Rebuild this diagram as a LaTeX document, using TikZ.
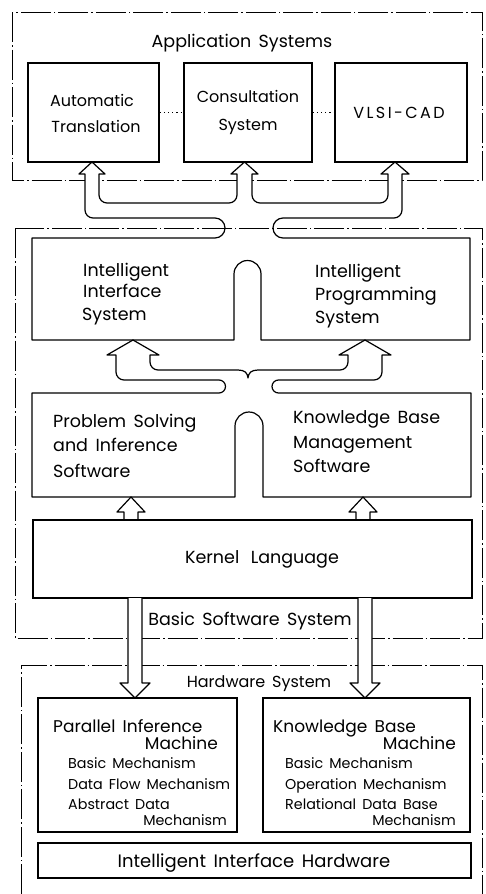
\documentclass[tikz,border=0pt]{standalone}
\usepackage{fontspec}
\setmainfont{Poppins}[WordSpace=1.6]
\tikzset{
  dd/.style={line width=1pt, dash pattern=on 30pt off 3pt on 1.5pt off 3pt},
  ln/.style={line width=1.2pt, line join=round},
  box/.style={draw, line width=1.2pt, inner sep=0pt},
  lbl/.style={font=\fontsize{17.5}{20}\selectfont, inner sep=0pt},
  app/.style={font=\fontsize{16}{19}\selectfont, inner sep=0pt},
  hw/.style={font=\fontsize{17}{20}\selectfont, inner sep=0pt},
  sub/.style={font=\fontsize{14.3}{17}\selectfont, inner sep=0pt},
}
\begin{document}
\begin{tikzpicture}[x=1pt,y=-1pt]
\useasboundingbox (0,0) rectangle (485,894);
\fill[white] (0,0) rectangle (485,894);

% dash-dot frames
\draw[dd] (12,12) rectangle (482,180);
\draw[dd] (15,228) rectangle (482,638);
\draw[dd] (21,894) -- (21,665) -- (482,665) -- (482,894);

% white fill of the hollow arrows crossing the frame line
\fill[white] (215,218) -- (93,218) arc(90:180:8) -- (85,174) -- (79,174) -- (92,162) -- (105,174) -- (99,174) -- (99,195) arc(180:90:8) -- (229,203) arc(90:0:8) -- (237,174) -- (231,174) -- (244.5,162) -- (258,174) -- (252,174) -- (252,195) arc(180:90:8) -- (380,203) arc(90:0:8) -- (388,174) -- (381,174) -- (395,162) -- (409,174) -- (402,174) -- (402,210) arc(0:90:8) -- (283,218) -- cycle;

% Application systems
\node[lbl, anchor=base] (apptitle) at (242,47) {Application Systems};
\node[box, minimum width=131pt, minimum height=99pt] (autotr) at (93.5,112.5) {};
\node[box, minimum width=128pt, minimum height=99pt] (consult) at (248,112.5) {};
\node[box, minimum width=132pt, minimum height=99pt] (vlsi) at (401,112.5) {};
\draw[line width=1pt, dash pattern=on 1.2pt off 3pt] (autotr.east) -- (consult.west);
\draw[line width=1pt, dash pattern=on 1.2pt off 3pt] (consult.east) -- (vlsi.west);
\node[app, anchor=base] (t1a) at (92,106) {Automatic};
\node[app, anchor=base] (t1b) at (96,132) {Translation};
\node[app, anchor=base] (t2a) at (248,102) {Consultation};
\node[app, anchor=base] (t2b) at (248,130) {System};
\node[app, anchor=base] (t3) at (399,118) {\addfontfeatures{LetterSpace=15}VLSI-CAD};

% tubes + intelligent box
\draw[ln] (215,238) arc(90:-90:10) -- (93,218) arc(90:180:8) -- (85,174) -- (79,174) -- (92,162) -- (105,174) -- (99,174) -- (99,195) arc(180:90:8) -- (229,203) arc(90:0:8) -- (237,174) -- (231,174) -- (244.5,162) -- (258,174) -- (252,174) -- (252,195) arc(180:90:8) -- (380,203) arc(90:0:8) -- (388,174) -- (381,174) -- (395,162) -- (409,174) -- (402,174) -- (402,210) arc(0:90:8) -- (283,218) arc(270:90:10) -- (470,238) -- (470,340) -- (261,340) -- (261,274) arc(0:-180:13.5) -- (234,340) -- (32,340) -- (32,238) -- cycle;
\node[lbl, anchor=base west] (ii1) at (83,276) {Intelligent};
\node[lbl, anchor=base west] (ii2) at (83,297) {Interface};
\node[lbl, anchor=base west] (ii3) at (82,320) {System};
\node[lbl, anchor=base west] (ip1) at (315,277) {Intelligent};
\node[lbl, anchor=base west] (ip2) at (315,300) {Programming};
\node[lbl, anchor=base west] (ip3) at (315,323) {System};

% branching arrows + problem solving box
\draw[ln] (219,393) arc(90:-90:6.5) -- (124,380) arc(90:180:8) -- (116,355) -- (107,355) -- (133,340) -- (159,355) -- (150,355) -- (150,362) arc(180:90:8) -- (238,370) .. controls (245,370) and (247.5,373) .. (248,378) .. controls (248.5,373) and (251,370) .. (258,370) -- (340,370) arc(90:0:8) -- (348,355) -- (339,355) -- (365,340) -- (391,355) -- (382,355) -- (382,372) arc(0:90:8) -- (278.5,380) arc(270:90:6.5) -- (471,393) -- (471,497) -- (263,497) -- (263,426) arc(0:-180:14) -- (235,497) -- (32,497) -- (32,393) -- cycle;
\node[lbl, anchor=base west] (ps1) at (53,427) {Problem Solving};
\node[lbl, anchor=base west] (ps2) at (53,451) {and Inference};
\node[lbl, anchor=base west] (ps3) at (53,477) {Software};
\node[lbl, anchor=base west] (kb1) at (293,423) {Knowledge Base};
\node[lbl, anchor=base west] (kb2) at (293,448) {Management};
\node[lbl, anchor=base west] (kb3) at (293,472) {Software};

% small up arrows
\draw[ln] (124,520) -- (124,512) -- (117,512) -- (131,497) -- (145,512) -- (138,512) -- (138,520);
\draw[ln] (356,520) -- (356,512) -- (349,512) -- (363,497) -- (377,512) -- (370,512) -- (370,520);

% kernel
\node[box, minimum width=439pt, minimum height=78pt] (kernel) at (252.5,559) {};
\node[lbl, anchor=base] (kl) at (262,563) {Kernel\hspace{4pt} Language};

% down arrows
\filldraw[ln, fill=white] (128,598) -- (128,683) -- (120,683) -- (135,698) -- (150,683) -- (142,683) -- (142,598);
\filldraw[ln, fill=white] (358,598) -- (358,683) -- (350,683) -- (365,698) -- (380,683) -- (372,683) -- (372,598);
\node[lbl, anchor=base] (bss) at (250,625) {Basic Software System};
\node[hw, font=\fontsize{16}{19}\selectfont, anchor=base] (hws) at (259,687) {Hardware System};

% hardware boxes
\node[box, minimum width=199pt, minimum height=134pt] (pim) at (137.5,765) {};
\node[box, minimum width=207pt, minimum height=134pt] (kbm) at (366.5,765) {};
\node[box, minimum width=433pt, minimum height=35pt] (iih) at (254.5,860.5) {};
\node[hw, anchor=base west] (p1) at (53,732) {Parallel Inference};
\node[hw, anchor=base east] (p2) at (218,749) {Machine};
\node[sub, anchor=base west] (p3) at (68,768) {Basic Mechanism};
\node[sub, anchor=base west] (p4) at (68,789) {Data Flow Mechanism};
\node[sub, anchor=base west] (p5) at (68,809) {Abstract Data};
\node[sub, anchor=base east] (p6) at (227,825) {Mechanism};
\node[hw, anchor=base west] (k1) at (273,732) {Knowledge Base};
\node[hw, anchor=base east] (k2) at (456,749) {Machine};
\node[sub, anchor=base west] (k3) at (285,768) {Basic Mechanism};
\node[sub, anchor=base west] (k4) at (285,789) {Operation Mechanism};
\node[sub, anchor=base west] (k5) at (285,809) {Relational Data Base};
\node[sub, anchor=base east] (k6) at (456,825) {Mechanism};
\node[lbl, font=\fontsize{18}{20}\selectfont, anchor=base] (ih) at (254,867) {Intelligent Interface Hardware};
\end{tikzpicture}
\end{document}
